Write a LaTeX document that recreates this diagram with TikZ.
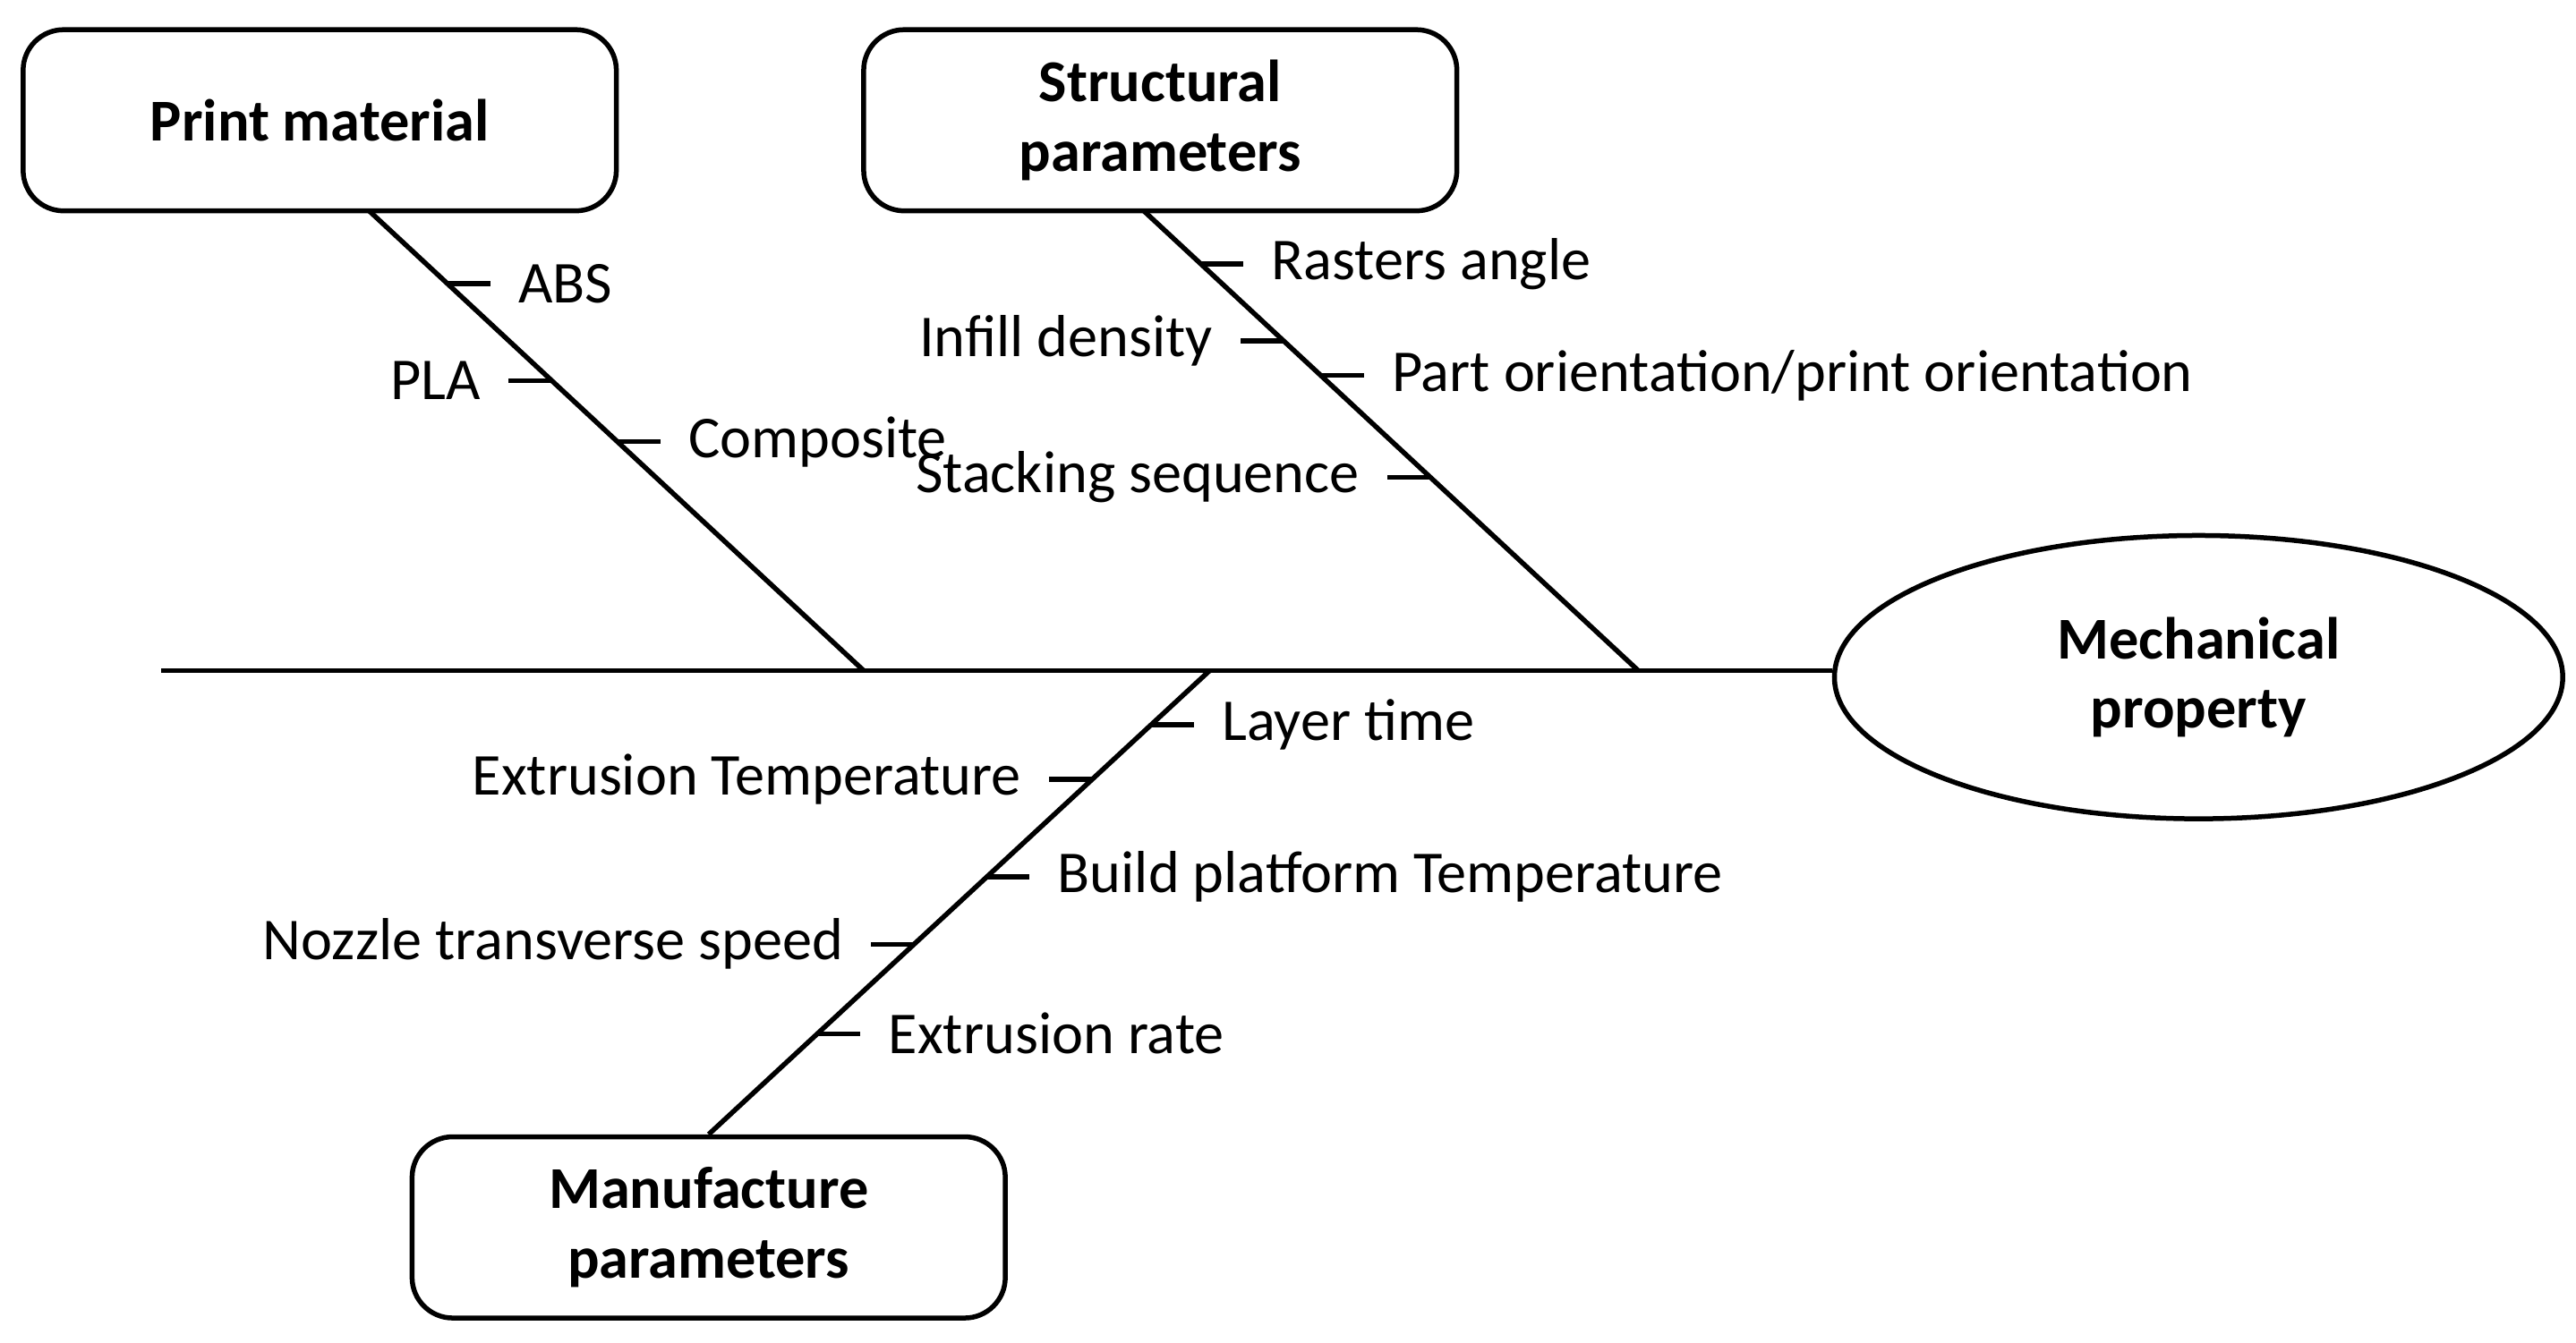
\documentclass[tikz,border=0pt]{standalone}
\usepackage{fontspec}
\setmainfont{Carlito}
\usetikzlibrary{positioning,calc,shapes.geometric}

\begin{document}
\begin{tikzpicture}[
        x=0.02cm, y=-0.02cm,
        bone/.style={black, line width=1.7pt},
        box/.style={draw, line width=1.7pt, rounded corners=14pt, minimum width=7.2cm,
            minimum height=2.2cm, align=center, font=\fontsize{20.5}{24}\selectfont\bfseries},
        effect/.style={draw, ellipse, line width=1.7pt, minimum width=8.84cm,
            minimum height=3.44cm, align=center, font=\fontsize{20.5}{24}\selectfont\bfseries},
        lbl/.style={font=\fontsize{20.5}{24}\selectfont, inner sep=5pt},
    ]
    \useasboundingbox (0,0) rectangle (1563,815);
    % heads and effect
    \node[box] (print) at (194,73) {Print material};
    \node[box] (struct) at (704,73) {Structural\\parameters};
    \node[box] (manu) at (430,745) {Manufacture\\parameters};
    \node[effect] (mech) at (1334,411) {Mechanical\\property};
    % spine
    \coordinate (tail) at (98,407);
    \draw[bone] (tail) -- (tail -| mech.west);
    % bones
    \coordinate (b1) at (524,407);
    \coordinate (b2) at (994,407);
    \coordinate (b3) at (734,407);
    \coordinate (t1) at (224,128);
    \coordinate (t2) at (694,128);
    \draw[bone] (t1) -- (b1);
    \draw[bone] (t2) -- (b2);
    \draw[bone] (manu.north) -- (b3);
    % causes
    \foreach \from/\to/\p/\d/\txt in {
        t1/b1/0.158/1/ABS,
        t1/b1/0.369/-1/PLA,
        t1/b1/0.502/1/Composite,
        t2/b2/0.115/1/Rasters angle,
        t2/b2/0.283/-1/Infill density,
        t2/b2/0.358/1/{Part orientation/print orientation},
        t2/b2/0.580/-1/Stacking sequence,
        b3/manu.north/0.117/1/Layer time,
        b3/manu.north/0.235/-1/Extrusion Temperature,
        b3/manu.north/0.445/1/Build platform Temperature,
        b3/manu.north/0.590/-1/Nozzle transverse speed,
        b3/manu.north/0.783/1/Extrusion rate} {
        \coordinate (c) at ($(\from)!\p!(\to)$);
        \coordinate (e) at ($(c)+(\d*26,0)$);
        \draw[bone] (c) -- (e);
        \ifnum\d>0
            \node[lbl, anchor=west] at ($(e)+(8,0)$) {\txt};
        \else
            \node[lbl, anchor=east] at ($(e)+(-8,0)$) {\txt};
        \fi
    }
\end{tikzpicture}
\end{document}
